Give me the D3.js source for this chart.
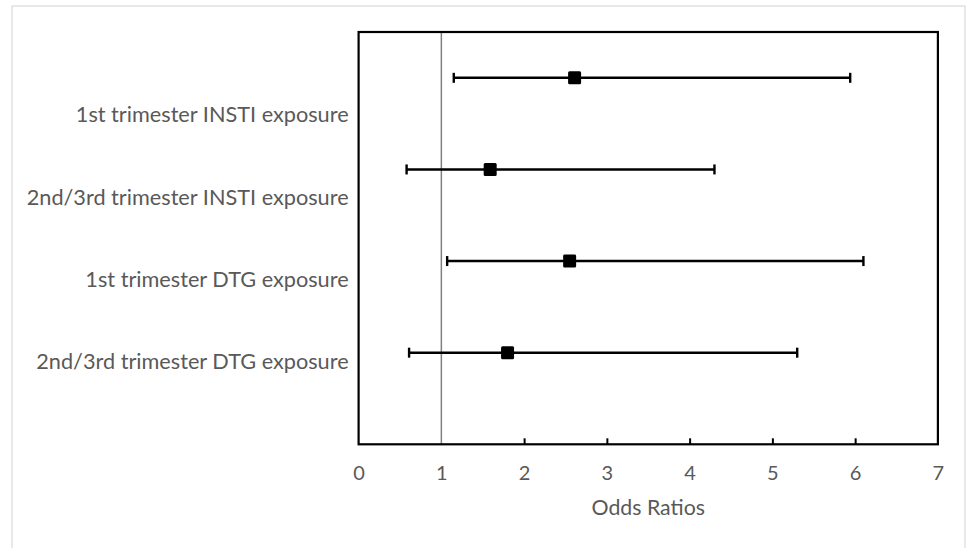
<!DOCTYPE html>
<html>
<head>
<meta charset="utf-8">
<script src="https://cdn.jsdelivr.net/npm/d3@7"></script>
<style>
  html, body { margin: 0; padding: 0; background: #fff; }
  svg text { font-family: Lato, "Open Sans", sans-serif; fill: #595959; }
</style>
</head>
<body>
<svg id="chart" width="969" height="548"></svg>
<script>
// odds ratios with 95% CI, top to bottom
const labels = [
  "1st trimester INSTI exposure",
  "2nd/3rd trimester INSTI exposure",
  "1st trimester DTG exposure",
  "2nd/3rd trimester DTG exposure"
];
const oddsRatio = [2.61, 1.59, 2.55, 1.80];
const lowerCI   = [1.15, 0.58, 1.07, 0.61];
const upperCI   = [5.94, 4.30, 6.10, 5.30];
const rowPos    = [4, 3, 2, 1];          // y value of each row (axis 0..4.5)
const xTicks    = [0, 1, 2, 3, 4, 5, 6, 7];
const refLine   = 1;

const svg = d3.select("#chart");
const margin = { top: 32, right: 32, bottom: 104, left: 358.6 };
const width = 969, height = 548;

const x = d3.scaleLinear([0, 7], [margin.left, width - margin.right + 0.9]);
const y = d3.scaleLinear([0, 4.5], [height - margin.bottom + 0.3, margin.top]);
// category labels sit on their own 5-slot scale
const labelY = d3.scaleLinear([0, 5], [margin.top, height - margin.bottom + 0.3]);

// outer frame
svg.append("rect")
  .attr("x", 12).attr("y", 6)
  .attr("width", 953).attr("height", 560)
  .attr("fill", "none")
  .attr("stroke", "#d9d9d9")
  .attr("stroke-width", 1.2);

// reference line at OR = 1
svg.append("line")
  .attr("x1", x(refLine)).attr("x2", x(refLine))
  .attr("y1", y(4.5)).attr("y2", y(0))
  .attr("stroke", "#808080")
  .attr("stroke-width", 1.5);

// x axis, ticks pointing inward
const xAxis = svg.append("g")
  .attr("transform", `translate(0,${y(0)})`)
  .call(d3.axisBottom(x).tickValues(xTicks).tickSize(-6).tickFormat(d3.format("d")));
xAxis.select(".domain").remove();
xAxis.selectAll(".tick line")
  .attr("stroke", "#000")
  .attr("stroke-width", 2)
  .attr("display", d => (d === 0 || d === 7 || d === refLine) ? "none" : null);
xAxis.selectAll(".tick text")
  .attr("font-size", 20)
  .attr("dy", "0.35em")
  .attr("y", 29);

// plot box
svg.append("rect")
  .attr("x", x(0)).attr("y", y(4.5))
  .attr("width", x(7) - x(0)).attr("height", y(0) - y(4.5))
  .attr("fill", "none")
  .attr("stroke", "#000")
  .attr("stroke-width", 2.2);

// axis title
svg.append("text")
  .attr("x", (x(0) + x(7)) / 2)
  .attr("y", 508)
  .attr("dy", "0.35em")
  .attr("text-anchor", "middle")
  .attr("font-size", 21.3)
  .text("Odds Ratios");

// category labels
svg.append("g")
  .selectAll("text")
  .data(labels)
  .join("text")
    .attr("x", x(0) - 10)
    .attr("y", (d, i) => labelY(i + 1))
    .attr("dy", "0.35em")
    .attr("text-anchor", "end")
    .attr("font-size", 21.7)
    .text(d => d);

// error bars and markers
const rows = labels.map((l, i) => ({ or: oddsRatio[i], lo: lowerCI[i], hi: upperCI[i], pos: rowPos[i] }));
const g = svg.append("g")
  .selectAll("g")
  .data(rows)
  .join("g")
    .attr("transform", d => `translate(0,${y(d.pos)})`);

g.append("line")
  .attr("x1", d => x(d.lo)).attr("x2", d => x(d.hi))
  .attr("stroke", "#000").attr("stroke-width", 2.4);
g.selectAll("line.cap")
  .data(d => [d.lo, d.hi])
  .join("line")
    .attr("class", "cap")
    .attr("x1", v => x(v)).attr("x2", v => x(v))
    .attr("y1", -5).attr("y2", 5)
    .attr("stroke", "#000").attr("stroke-width", 2.4);
g.append("rect")
  .attr("x", d => x(d.or) - 6.5).attr("y", -6.5)
  .attr("width", 13).attr("height", 13)
  .attr("rx", 1.5)
  .attr("fill", "#000");
</script>
</body>
</html>
